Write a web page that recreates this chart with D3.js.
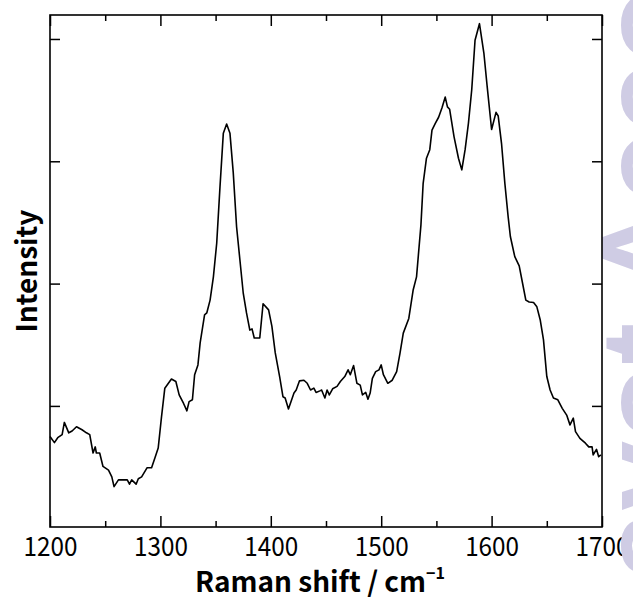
<!DOCTYPE html>
<meta charset="utf-8">
<script src="https://d3js.org/d3.v7.min.js"></script>
<style>
  body { margin: 0px; background: #fff; }
  .tick-label { font-family: "Noto Sans CJK JP", sans-serif; font-size: 27px; fill: #000; }
  .axis-title { font-family: "Noto Sans CJK JP", sans-serif; font-weight: bold; fill: #000; }
</style>
<div id="chart"></div>
<script>

// Raman spectrum
const shifts = [1200,1204,1207,1211,1213,1217,1220,1224,1229,1233,1236,1239,1241,1242,1245,1248,1253,1256,1258,1262,
  1270,1272,1274,1278,1280,1283,1288,1292,1295,1298,1301,1304,1310,1314,1317,1321,1324,1326,1329,1331,
  1334,1336,1340,1342,1345,1348,1351,1354,1357,1360,1363,1366,1369,1372,1375,1378,1381,1383,1385,1390,
  1393,1398,1401,1404,1408,1411,1413,1416,1421,1423,1426,1430,1433,1436,1439,1441,1445,1446,1449,1451,
  1453,1456,1460,1463,1467,1470,1472,1475,1478,1481,1483,1486,1488,1490,1492,1495,1498,1500,1502,1506,
  1510,1514,1517,1520,1525,1529,1532,1536,1538,1541,1544,1546,1549,1552,1555,1558,1560,1562,1566,1570,
  1573,1576,1579,1582,1585,1589,1593,1596,1600,1604,1606,1609,1612,1615,1617,1621,1625,1628,1631,1634,
  1638,1641,1644,1647,1650,1653,1656,1660,1664,1668,1671,1674,1676,1680,1685,1688,1691,1692,1695,1697,1699];

const intensity = [750,700,740,765,865,780,795,830,805,780,765,615,665,615,615,505,475,420,340,395,
  395,360,395,360,405,420,495,495,575,655,910,1145,1220,1200,1090,1020,960,1035,1050,1255,
  1335,1515,1745,1760,1865,2055,2330,2795,3230,3305,3230,2905,2465,2195,1925,1760,1620,1630,1555,1555,
  1835,1785,1650,1435,1240,1075,1065,975,1105,1130,1205,1210,1185,1130,1145,1110,1125,1130,1065,1130,
  1090,1140,1160,1200,1240,1295,1255,1330,1185,1170,1090,1110,1055,1105,1225,1280,1295,1335,1255,1185,
  1210,1280,1430,1595,1715,1950,2055,2480,2820,3025,3095,3255,3310,3360,3435,3525,3445,3425,3200,3025,
  2930,3095,3310,3585,3990,4125,3885,3610,3260,3400,3370,3145,2820,2545,2385,2220,2145,2005,1865,1850,
  1845,1810,1705,1540,1240,1130,1065,1050,980,925,845,900,790,735,695,665,665,600,645,585,600];

const xMajor = [1200, 1300, 1400, 1500, 1600, 1700];
const xMinor = [1250, 1350, 1450, 1550, 1650];
const yMajor = [1000, 2000, 3000, 4000];

const data = shifts.map((s, i) => ({x: s, y: intensity[i]}));

var W = 633, H = 598;
var pLeft = 50, pRight = 602, pTop = 15, pBottom = 527;

var svg = d3.select("#chart").append("svg")
    .attr("width", W)
    .attr("height", H);

var x = d3.scaleLinear().domain([1200, 1700]).range([pLeft, pRight]);
var y = d3.scaleLinear().domain([10, 4196]).range([pBottom, pTop]);

// bottom axis with labels (ticks point inward)
var xAxisB = svg.append("g")
    .attr("transform", "translate(0," + pBottom + ")")
    .call(d3.axisBottom(x).tickValues(xMajor).tickSizeInner(-11).tickSizeOuter(0).tickPadding(10).tickFormat(d3.format("d")));
xAxisB.select(".domain").remove();
xAxisB.selectAll("text")
    .attr("class", "tick-label")
    .attr("font-size", null).attr("font-family", null)
    .attr("transform", "scale(0.9,1)");

var xMinB = svg.append("g")
    .attr("transform", "translate(0," + pBottom + ")")
    .call(d3.axisBottom(x).tickValues(xMinor).tickSizeInner(-6).tickSizeOuter(0).tickFormat(""));
xMinB.select(".domain").remove();

// top axis mirrored
var xAxisT = svg.append("g")
    .attr("transform", "translate(0," + pTop + ")")
    .call(d3.axisTop(x).tickValues(xMajor).tickSizeInner(-11).tickSizeOuter(0).tickFormat(""));
xAxisT.select(".domain").remove();
var xMinT = svg.append("g")
    .attr("transform", "translate(0," + pTop + ")")
    .call(d3.axisTop(x).tickValues(xMinor).tickSizeInner(-6).tickSizeOuter(0).tickFormat(""));
xMinT.select(".domain").remove();

// left + right axes, no labels
var yAxisL = svg.append("g")
    .attr("transform", "translate(" + pLeft + ",0)")
    .call(d3.axisLeft(y).tickValues(yMajor).tickSizeInner(-10).tickSizeOuter(0).tickFormat(""));
yAxisL.select(".domain").remove();
var yAxisR = svg.append("g")
    .attr("transform", "translate(" + pRight + ",0)")
    .call(d3.axisRight(y).tickValues(yMajor).tickSizeInner(-10).tickSizeOuter(0).tickFormat(""));
yAxisR.select(".domain").remove();

svg.selectAll(".tick line").attr("stroke", "#000").attr("stroke-width", 1.5);

// watermark on the right edge
svg.append("text")
    .attr("transform", "translate(688,580) rotate(-90)")
    .style("font-family", "'Liberation Sans', Arial, sans-serif")
    .style("font-weight", "bold")
    .style("font-size", "125px")
    .style("fill", "#cfcce4")
    .text("avot Accou");

// frame
svg.append("rect")
    .attr("x", pLeft).attr("y", pTop)
    .attr("width", pRight - pLeft).attr("height", pBottom - pTop)
    .attr("fill", "none").attr("stroke", "#000").attr("stroke-width", 1.6);

// spectrum
svg.append("path")
    .datum(data)
    .attr("fill", "none")
    .attr("stroke", "#000")
    .attr("stroke-width", 1.6)
    .attr("stroke-linejoin", "round")
    .attr("d", d3.line().x(d => x(d.x)).y(d => y(d.y)));

// axis titles
var xt = svg.append("text")
    .attr("class", "axis-title")
    .attr("x", 320).attr("y", 592)
    .style("font-size", "28px")
    .attr("text-anchor", "middle");
xt.append("tspan").text("Raman shift / cm");
xt.append("tspan").attr("dy", -13).style("font-size", "16px").text("\u22121");

svg.append("text")
    .attr("class", "axis-title")
    .attr("transform", "translate(37,271) rotate(-90)")
    .style("font-size", "28px")
    .attr("text-anchor", "middle")
    .text("Intensity");

</script>
